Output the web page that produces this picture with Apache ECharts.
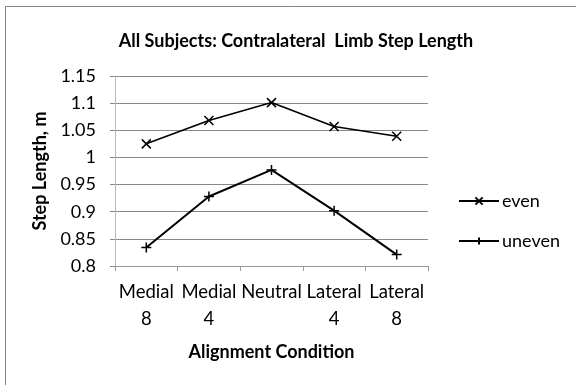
<!DOCTYPE html>
<html>
<head>
<meta charset="utf-8">
<script src="https://cdn.jsdelivr.net/npm/echarts@6/dist/echarts.min.js"></script>
<style>
  html, body { margin: 0; padding: 0; background: #fff; }
  #chart { width: 576px; height: 385px; }
</style>
</head>
<body>
<div id="chart"></div>
<script>
// Alignment conditions along the x axis (two-line labels)
const categories = ['Medial\n8', 'Medial\n4', 'Neutral', 'Lateral\n4', 'Lateral\n8'];
// Mean contralateral limb step length, m
const evenValues = [1.025, 1.068, 1.101, 1.057, 1.039];
const unevenValues = [0.834, 0.928, 0.977, 0.902, 0.821];
// Y-axis ticks
const yTicks = [0.8, 0.85, 0.9, 0.95, 1, 1.05, 1.1, 1.15];

const FONT = 'Lato, "Open Sans", sans-serif';
const crossPath = 'path://M0,0L10,10M10,0L0,10';
const plusPath = 'path://M5,0L5,10M0,5L10,5';

const chart = echarts.init(document.getElementById('chart'), null, { renderer: 'canvas' });
chart.setOption({
  animation: false,
  backgroundColor: '#fff',
  title: {
    text: 'All Subjects: Contralateral  Limb Step Length',
    left: 291, top: 27, textAlign: 'center',
    textStyle: { fontFamily: FONT, fontWeight: 'bold', fontSize: 18, color: '#000' }
  },
  grid: { left: 115, right: 148, top: 76, bottom: 119, containLabel: false },
  legend: {
    orient: 'vertical', left: 453, top: 187, itemGap: 22,
    itemWidth: 40, itemHeight: 9,
    textStyle: { fontFamily: FONT, fontSize: 18, color: '#000', padding: [0, 0, 0, -2] },
    data: ['even', 'uneven']
  },
  xAxis: {
    type: 'category', data: categories, boundaryGap: true,
    name: 'Alignment Condition', nameLocation: 'middle', nameGap: 77,
    nameTextStyle: { fontFamily: FONT, fontWeight: 'bold', fontSize: 18, color: '#000' },
    axisLine: { lineStyle: { color: '#999', width: 1 } },
    axisTick: { show: true, length: 5, alignWithLabel: false, lineStyle: { color: '#999' } },
    axisLabel: { fontFamily: FONT, fontSize: 18.5, color: '#000', margin: 13, lineHeight: 27, interval: 0 }
  },
  yAxis: {
    type: 'value', min: 0.8, max: 1.15, interval: 0.05,
    name: 'Step Length, m', nameLocation: 'middle', nameGap: 58, nameRotate: 90,
    nameTextStyle: { fontFamily: FONT, fontWeight: 'bold', fontSize: 18, color: '#000' },
    axisLine: { show: true, lineStyle: { color: '#bbb' } },
    axisTick: { show: true, length: 5, lineStyle: { color: '#888' } },
    splitLine: { lineStyle: { color: '#888', width: 1 } },
    axisLabel: {
      fontFamily: FONT, fontSize: 18, color: '#000', margin: 19,
      formatter: v => {
        const t = yTicks.find(k => Math.abs(k - v) < 1e-6);
        return t === undefined ? '' : String(t);
      }
    }
  },
  series: [
    {
      name: 'even', type: 'line', data: evenValues,
      symbol: crossPath, symbolSize: 9,
      lineStyle: { color: '#000', width: 1.6 },
      itemStyle: { color: 'none', borderColor: '#000', borderWidth: 1.5 }
    },
    {
      name: 'uneven', type: 'line', data: unevenValues,
      symbol: plusPath, symbolSize: 10,
      lineStyle: { color: '#000', width: 2 },
      itemStyle: { color: 'none', borderColor: '#000', borderWidth: 1.5 }
    }
  ],
  graphic: [
    { type: 'line', shape: { x1: 5, y1: 6.5, x2: 576, y2: 6.5 }, style: { stroke: '#888', lineWidth: 1 } },
    { type: 'line', shape: { x1: 5.5, y1: 6, x2: 5.5, y2: 385 }, style: { stroke: '#888', lineWidth: 1 } }
  ]
});
</script>
</body>
</html>
